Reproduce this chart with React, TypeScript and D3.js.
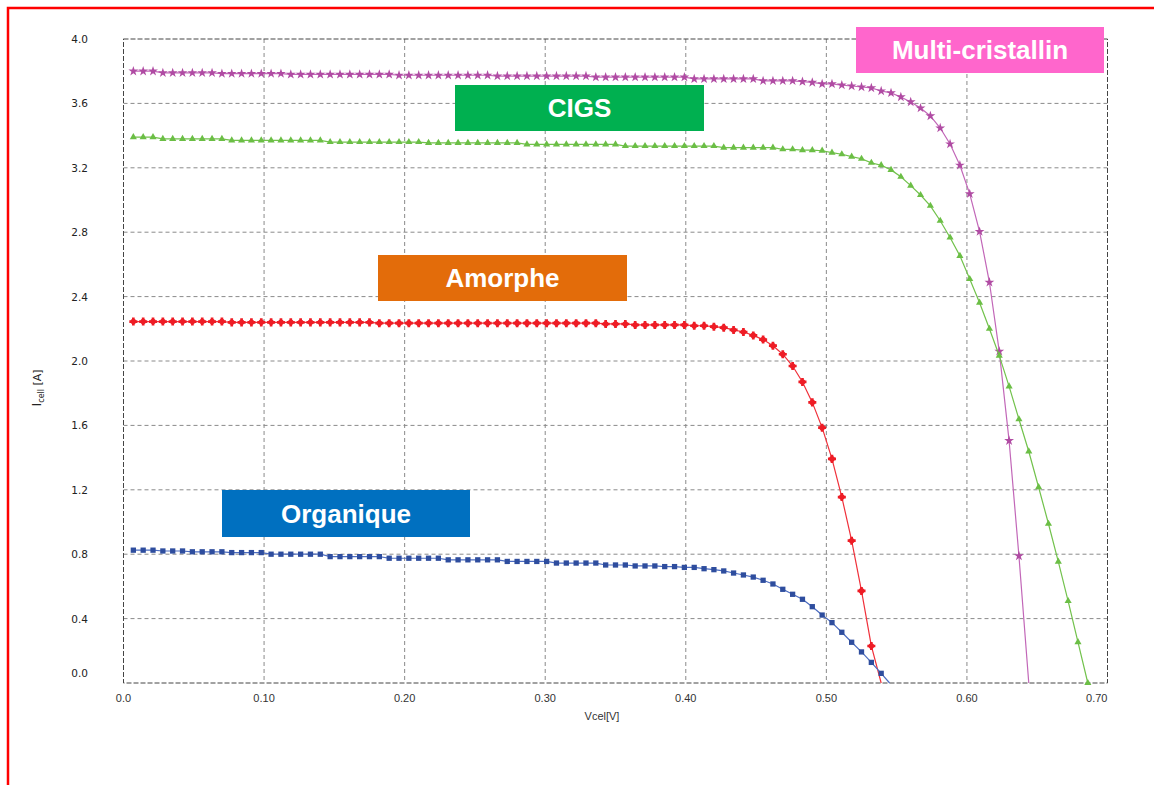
import React, { useEffect, useRef } from 'react';
import * as d3 from 'd3';

// voltage steps of the measurement (V)
const voltages = [
  0.007, 0.014, 0.021, 0.028, 0.035, 0.042, 0.049, 0.056, 0.063, 0.070,
  0.077, 0.084, 0.091, 0.098, 0.105, 0.112, 0.119, 0.126, 0.133, 0.140,
  0.147, 0.154, 0.161, 0.168, 0.175, 0.182, 0.189, 0.196, 0.203, 0.210,
  0.217, 0.224, 0.231, 0.238, 0.245, 0.252, 0.259, 0.266, 0.273, 0.280,
  0.287, 0.294, 0.301, 0.308, 0.315, 0.322, 0.329, 0.336, 0.343, 0.350,
  0.357, 0.364, 0.371, 0.378, 0.385, 0.392, 0.399, 0.406, 0.413, 0.420,
  0.427, 0.434, 0.441, 0.448, 0.455, 0.462, 0.469, 0.476, 0.483, 0.490,
  0.497, 0.504, 0.511, 0.518, 0.525, 0.532, 0.539, 0.546, 0.553, 0.560,
  0.567, 0.574, 0.581, 0.588, 0.595, 0.602, 0.609, 0.616, 0.623, 0.630,
  0.637, 0.644, 0.651, 0.658, 0.665, 0.672, 0.679, 0.686,
];

const multiCurrent = [
  3.80, 3.80, 3.80, 3.79, 3.79, 3.79, 3.79, 3.79, 3.79, 3.785,
  3.785, 3.785, 3.785, 3.785, 3.785, 3.785, 3.78, 3.78, 3.78, 3.78,
  3.78, 3.78, 3.78, 3.78, 3.78, 3.78, 3.78, 3.775, 3.775, 3.775,
  3.775, 3.775, 3.775, 3.775, 3.775, 3.775, 3.775, 3.77, 3.77, 3.77,
  3.77, 3.77, 3.77, 3.77, 3.77, 3.77, 3.77, 3.763, 3.763, 3.763,
  3.763, 3.763, 3.763, 3.763, 3.763, 3.763, 3.763, 3.752, 3.752, 3.752,
  3.752, 3.752, 3.752, 3.752, 3.74, 3.74, 3.74, 3.74, 3.735, 3.73,
  3.721, 3.721, 3.714, 3.708, 3.702, 3.696, 3.677, 3.665, 3.640, 3.609,
  3.571, 3.522, 3.447, 3.348, 3.216, 3.038, 2.804, 2.489, 2.060, 1.505,
  0.789, 0,
];

const cigsCurrent = [
  3.39, 3.39, 3.39, 3.38, 3.38, 3.38, 3.38, 3.38, 3.38, 3.38,
  3.37, 3.37, 3.37, 3.37, 3.37, 3.37, 3.37, 3.37, 3.37, 3.37,
  3.36, 3.36, 3.36, 3.36, 3.36, 3.36, 3.36, 3.36, 3.36, 3.36,
  3.355, 3.355, 3.355, 3.355, 3.355, 3.355, 3.355, 3.355, 3.355, 3.355,
  3.345, 3.345, 3.345, 3.345, 3.345, 3.345, 3.345, 3.345, 3.345, 3.345,
  3.335, 3.335, 3.335, 3.335, 3.335, 3.335, 3.335, 3.335, 3.335, 3.335,
  3.325, 3.325, 3.325, 3.325, 3.325, 3.325, 3.315, 3.315, 3.31, 3.31,
  3.306, 3.294, 3.284, 3.269, 3.256, 3.231, 3.216, 3.187, 3.144, 3.089,
  3.031, 2.964, 2.871, 2.767, 2.653, 2.509, 2.362, 2.200, 2.033, 1.842,
  1.638, 1.438, 1.216, 0.989, 0.754, 0.509, 0.254, 0,
];

const amorpheCurrent = [
  2.245, 2.245, 2.245, 2.245, 2.245, 2.245, 2.245, 2.245, 2.245, 2.245,
  2.24, 2.24, 2.24, 2.24, 2.24, 2.24, 2.24, 2.24, 2.24, 2.24,
  2.24, 2.24, 2.24, 2.24, 2.24, 2.235, 2.235, 2.235, 2.235, 2.235,
  2.235, 2.235, 2.235, 2.235, 2.235, 2.235, 2.235, 2.235, 2.235, 2.235,
  2.235, 2.235, 2.235, 2.235, 2.235, 2.235, 2.235, 2.235, 2.230, 2.230,
  2.230, 2.224, 2.224, 2.224, 2.224, 2.224, 2.224, 2.219, 2.219, 2.213,
  2.207, 2.193, 2.180, 2.159, 2.133, 2.095, 2.042, 1.969, 1.870, 1.743,
  1.586, 1.392, 1.155, 0.884, 0.572, 0.230, 0,
];

const organiqueCurrent = [
  0.825, 0.825, 0.825, 0.82, 0.82, 0.82, 0.815, 0.815, 0.815, 0.815,
  0.81, 0.81, 0.81, 0.81, 0.80, 0.80, 0.80, 0.80, 0.80, 0.80,
  0.785, 0.785, 0.785, 0.785, 0.785, 0.785, 0.775, 0.775, 0.775, 0.775,
  0.775, 0.775, 0.765, 0.765, 0.765, 0.765, 0.765, 0.765, 0.755, 0.755,
  0.755, 0.755, 0.755, 0.745, 0.745, 0.745, 0.745, 0.745, 0.733, 0.733,
  0.733, 0.727, 0.727, 0.727, 0.723, 0.723, 0.718, 0.718, 0.710, 0.704,
  0.696, 0.683, 0.671, 0.658, 0.638, 0.615, 0.582, 0.551, 0.520, 0.474,
  0.422, 0.375, 0.315, 0.253, 0.193, 0.128, 0.060,
];
const organiqueVoc = 0.545;

const xTicks = [0, 0.1, 0.2, 0.3, 0.4, 0.5, 0.6, 0.7];
const xTickLabels = ['0.0', '0.10', '0.20', '0.30', '0.40', '0.50', '0.60', '0.70'];
const yTicks = [0, 0.4, 0.8, 1.2, 1.6, 2.0, 2.4, 2.8, 3.2, 3.6, 4.0];

const seriesNames = ['Multi-cristallin', 'CIGS', 'Amorphe', 'Organique'];

function App() {
  const chartRef = useRef<HTMLDivElement>(null);

  useEffect(() => {
    const el = chartRef.current;
    if (!el) return;
    el.innerHTML = '';

    const W = 1154, H = 785;
    const left = 123.5, right = 1107.5, top = 39, bottom = 683;

    const svg = d3.select(el)
      .append('svg')
      .attr('width', W)
      .attr('height', H)
      .style('position', 'absolute')
      .style('left', '0px')
      .style('top', '0px')
      .style('background', '#fff');

    // red frame, cut by the page edges
    svg.append('rect')
      .attr('x', 8).attr('y', 8)
      .attr('width', 1300).attr('height', 1000)
      .attr('fill', 'none')
      .attr('stroke', '#ff0000')
      .attr('stroke-width', 2.5);

    const x = d3.scaleLinear().domain([0, 0.7]).range([left, right]);
    const y = d3.scaleLinear().domain([0, 4]).range([bottom, top]);

    // grid
    svg.append('g').selectAll('line')
      .data(xTicks.slice(1, -1))
      .enter().append('line')
      .attr('x1', d => x(d)).attr('x2', d => x(d))
      .attr('y1', top).attr('y2', bottom)
      .attr('stroke', '#8a8a8a')
      .attr('stroke-width', 1)
      .attr('stroke-dasharray', '4,3');

    svg.append('g').selectAll('line')
      .data(yTicks.slice(1, -1))
      .enter().append('line')
      .attr('x1', left).attr('x2', right)
      .attr('y1', d => y(d)).attr('y2', d => y(d))
      .attr('stroke', '#8a8a8a')
      .attr('stroke-width', 1)
      .attr('stroke-dasharray', '4,3');

    svg.append('rect')
      .attr('x', left).attr('y', top)
      .attr('width', right - left).attr('height', bottom - top)
      .attr('fill', 'none')
      .attr('stroke', '#444')
      .attr('stroke-width', 1)
      .attr('stroke-dasharray', '5,2');

    // tick labels
    svg.append('g').selectAll('text')
      .data(yTicks)
      .enter().append('text')
      .attr('x', 88)
      .attr('y', d => (d === 0 ? y(d) - 10 : y(d)) + 4)
      .attr('text-anchor', 'end')
      .style('font-family', 'DejaVu Sans, sans-serif')
      .style('font-size', '10.5px')
      .attr('fill', '#222')
      .text(d => d.toFixed(1));

    svg.append('g').selectAll('text')
      .data(xTicks)
      .enter().append('text')
      .attr('x', d => x(d))
      .attr('y', 702)
      .attr('text-anchor', (d, i) => (i === xTicks.length - 1 ? 'end' : 'middle'))
      .style('font-family', 'Liberation Sans, Arial, sans-serif')
      .style('font-size', '11px')
      .attr('fill', '#333')
      .text((d, i) => xTickLabels[i]);

    // axis titles
    svg.append('text')
      .attr('x', 602).attr('y', 720)
      .attr('text-anchor', 'middle')
      .style('font-family', 'Liberation Sans, Arial, sans-serif')
      .style('font-size', '11px')
      .attr('fill', '#333')
      .text('Vcel[V]');

    const yTitle = svg.append('text')
      .attr('transform', 'translate(41,388) rotate(-90)')
      .attr('text-anchor', 'middle')
      .style('font-family', 'DejaVu Sans, sans-serif')
      .style('font-size', '11px')
      .attr('fill', '#222');
    yTitle.append('tspan').style('font-size', '13px').text('I');
    yTitle.append('tspan').attr('dy', 3).style('font-size', '8px').text('cell');
    yTitle.append('tspan').attr('dy', -3).text('  [A]');

    const line = d3.line<[number, number]>()
      .x(d => x(d[0]))
      .y(d => y(d[1]));

    const series = [
      { cur: multiCurrent, line: '#C267B8', mark: '#B04BA3', sym: d3.symbolStar, size: 30, endMark: false },
      { cur: cigsCurrent, line: '#72C24C', mark: '#6BBE45', sym: d3.symbolTriangle, size: 22, endMark: true },
      { cur: amorpheCurrent, line: '#F0303A', mark: '#EE1C25', sym: d3.symbolCross, size: 36, endMark: false },
      { cur: organiqueCurrent, line: '#4C6CC0', mark: '#2E4D9E', sym: d3.symbolSquare, size: 28, endMark: true },
    ];

    series.forEach((s, si) => {
      const pts: [number, number][] = s.cur.map((c, i) => [voltages[i], c]);
      const linePts = si === 3 ? [...pts, [organiqueVoc, 0] as [number, number]] : pts;
      svg.append('path')
        .datum(linePts)
        .attr('fill', 'none')
        .attr('stroke', s.line)
        .attr('stroke-width', 1.2)
        .attr('d', line);

      const markPts = s.endMark ? pts : pts.slice(0, -1);
      const g = svg.append('g');
      g.selectAll('path')
        .data(markPts)
        .enter().append('path')
        .attr('transform', d => `translate(${x(d[0])},${y(d[1])})`)
        .attr('d', d3.symbol().type(s.sym).size(s.size)())
        .attr('fill', s.mark);
      if (si === 2) {
        g.selectAll('circle')
          .data(markPts)
          .enter().append('circle')
          .attr('cx', d => x(d[0]))
          .attr('cy', d => y(d[1]))
          .attr('r', 2.8)
          .attr('fill', s.mark);
      }
    });

    // coloured label boxes
    const boxes = [
      { fill: '#FF66CC', x: 856, y: 27, w: 248, h: 46 },
      { fill: '#00B050', x: 455, y: 85, w: 249, h: 46 },
      { fill: '#E36C0A', x: 378, y: 255, w: 249, h: 46 },
      { fill: '#0070C0', x: 222, y: 490, w: 248, h: 47 },
    ];
    boxes.forEach((b, i) => {
      svg.append('rect')
        .attr('x', b.x).attr('y', b.y)
        .attr('width', b.w).attr('height', b.h)
        .attr('fill', b.fill);
      svg.append('text')
        .attr('x', b.x + b.w / 2)
        .attr('y', b.y + b.h / 2 + 9.3)
        .attr('text-anchor', 'middle')
        .style('font-family', 'Liberation Sans, Arial, sans-serif')
        .style('font-weight', 'bold')
        .style('font-size', '26px')
        .attr('fill', '#fff')
        .text(seriesNames[i]);
    });
  }, []);

  return <div ref={chartRef}></div>;
}

export default App;
